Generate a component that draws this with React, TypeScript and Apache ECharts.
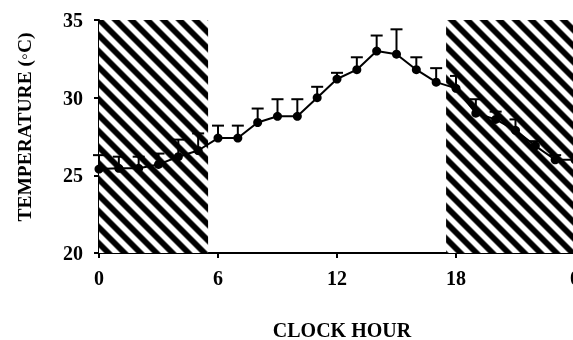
import React, { useEffect, useRef } from "react";
import * as echarts from "echarts";

const hours = [0, 1, 2, 3, 4, 5, 6, 7, 8, 9, 10, 11, 12, 13, 14, 15, 16, 17, 18, 19, 20, 21, 22, 23, 24];
const meanTemp = [25.4, 25.45, 25.45, 25.7, 26.2, 26.6, 27.4, 27.4, 28.4, 28.8, 28.8, 30.0, 31.2, 31.8, 33.0, 32.8, 31.8, 31.0, 30.6, 29.0, 28.6, 27.9, 26.9, 26.0, 26.0];
const upperTemp = [26.3, 26.2, 26.2, 26.4, 27.3, 27.7, 28.2, 28.2, 29.3, 29.9, 29.9, 30.7, 31.6, 32.6, 34.0, 34.4, 32.6, 31.9, 31.4, 29.9, 29.1, 28.6, 27.2, 26.3, null];
const darkPeriods = [
  [0, 5.5],
  [17.5, 24],
];
const xTickLabels = ["0", "6", "12", "18", "0"];
const yTicks = [20, 25, 30, 35];

function makeHatch(): HTMLCanvasElement {
  const size = 16;
  const c = document.createElement("canvas");
  c.width = size;
  c.height = size;
  const ctx = c.getContext("2d")!;
  const img = ctx.createImageData(size, size);
  for (let y = 0; y < size; y++) {
    for (let x = 0; x < size; x++) {
      const t = Math.cos((2 * Math.PI * (x - y + 0.5)) / size);
      const v = Math.max(0, Math.min(1, 0.45 - t * 1.3));
      const g = Math.round(v * 255);
      const i = (y * size + x) * 4;
      img.data[i] = g;
      img.data[i + 1] = g;
      img.data[i + 2] = g;
      img.data[i + 3] = 255;
    }
  }
  ctx.putImageData(img, 0, 0);
  return c;
}

export default function App() {
  const ref = useRef<HTMLDivElement>(null);
  useEffect(() => {
    if (!ref.current) return;
    const chart = echarts.init(ref.current, undefined, { renderer: "svg" });
    const font = "Liberation Serif";
    const hatch = makeHatch();
    const lineData = hours.map((h, i) => [h, meanTemp[i]]);
    const errData = hours
      .map((h, i) => [h, meanTemp[i], upperTemp[i]])
      .filter((d) => d[2] != null);
    chart.setOption({
      animation: false,
      grid: { left: 99, top: 20, width: 476, height: 233, outerBoundsMode: "none", containLabel: false },
      xAxis: {
        type: "value",
        min: 0,
        max: 24,
        interval: 6,
        axisLine: { lineStyle: { color: "#000", width: 2 } },
        axisTick: { show: true, length: 5, lineStyle: { color: "#000", width: 2 } },
        splitLine: { show: false },
        axisLabel: {
          color: "#000",
          fontFamily: font,
          fontWeight: "bold",
          fontSize: 20,
          margin: 15,
          hideOverlap: false,
          formatter: (v: number) => xTickLabels[Math.round(v / 6)],
        },
      },
      yAxis: {
        type: "value",
        min: yTicks[0],
        max: yTicks[yTicks.length - 1],
        interval: 5,
        axisLine: { show: true, lineStyle: { color: "#000", width: 2 } },
        axisTick: { show: true, length: 5, lineStyle: { color: "#000", width: 2 } },
        splitLine: { show: false },
        axisLabel: {
          color: "#000",
          fontFamily: font,
          fontWeight: "bold",
          fontSize: 20,
          margin: 16,
        },
      },
      graphic: [
        {
          type: "text",
          x: 24,
          y: 127,
          rotation: Math.PI / 2,
          style: {
            text: "TEMPERATURE (◦C)",
            fill: "#000",
            font: `bold 19.5px "${font}"`,
            align: "center",
            verticalAlign: "middle",
          },
        },
        {
          type: "text",
          x: 342,
          y: 330,
          style: {
            text: "CLOCK HOUR",
            fill: "#000",
            font: `bold 20px "${font}"`,
            align: "center",
            verticalAlign: "middle",
          },
        },
      ],
      series: [
        {
          type: "custom",
          data: errData,
          z: 4,
          renderItem: (params: any, api: any) => {
            const x = api.value(0);
            const p0 = api.coord([x, api.value(1)]);
            const p1 = api.coord([x, api.value(2)]);
            return {
              type: "group",
              children: [
                {
                  type: "line",
                  shape: { x1: p0[0], y1: p0[1], x2: p1[0], y2: p1[1] },
                  style: { stroke: "#000", lineWidth: 2 },
                },
                {
                  type: "line",
                  shape: { x1: p1[0] - 6, y1: p1[1], x2: p1[0] + 6, y2: p1[1] },
                  style: { stroke: "#000", lineWidth: 2 },
                },
              ],
            };
          },
        },
        {
          type: "line",
          data: lineData,
          z: 5,
          symbol: "circle",
          symbolSize: 9,
          lineStyle: { color: "#000", width: 2 },
          itemStyle: { color: "#000" },
          markArea: {
            silent: true,
            z: 1,
            itemStyle: {
              color: { image: hatch, repeat: "repeat", imageWidth: 16, imageHeight: 16 } as any,
            },
            label: { show: false },
            data: darkPeriods.map(([a, b]) => [{ xAxis: a }, { xAxis: b }]),
          },
        },
      ],
    });
    return () => chart.dispose();
  }, []);
  return (
    <div
      ref={ref}
      style={{ position: "fixed", left: 0, top: 0, width: 573, height: 340, overflow: "hidden" }}
    />
  );
}
